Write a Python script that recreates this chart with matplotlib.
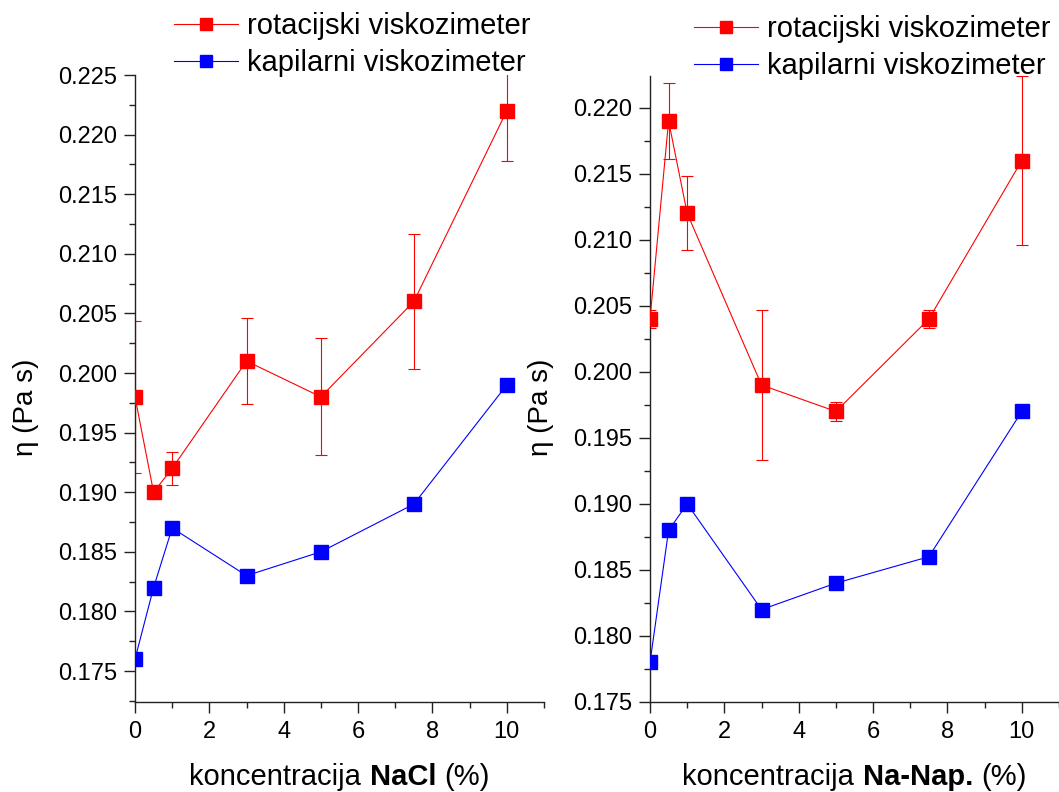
import matplotlib
matplotlib.use("Agg")
import matplotlib.pyplot as plt
from matplotlib.ticker import MultipleLocator, FormatStrFormatter
from matplotlib.offsetbox import TextArea, HPacker, AnchoredOffsetbox

plt.rcParams['font.family'] = ['Liberation Sans', 'DejaVu Sans']

# concentration (%)
conc = [0, 0.5, 1, 3, 5, 7.5, 10]

# NaCl series, viscosity in Pa s
nacl_rot = [0.198, 0.190, 0.192, 0.201, 0.198, 0.206, 0.222]
nacl_rot_err = [0.0064, 0.0, 0.0014, 0.0036, 0.0049, 0.0057, 0.0042]
nacl_kap = [0.176, 0.182, 0.187, 0.183, 0.185, 0.189, 0.199]

# Na-Nap. series
nanap_rot = [0.204, 0.219, 0.212, 0.199, 0.197, 0.204, 0.216]
nanap_rot_err = [0.0007, 0.0029, 0.0028, 0.0057, 0.0007, 0.0007, 0.0064]
nanap_kap = [0.178, 0.188, 0.190, 0.182, 0.184, 0.186, 0.197]

labels = ['rotacijski viskozimeter', 'kapilarni viskozimeter']
W, H = 1059, 792

fig = plt.figure(figsize=(W / 100, H / 100), dpi=100)
ax1 = fig.add_axes([135 / W, 1 - 702 / H, 409 / W, 627 / H])
ax2 = fig.add_axes([650 / W, 1 - 702 / H, 409 / W, 626 / H])


def draw_panel(ax, rot, rot_err, kap, ylim, salt, leg_xy):
    ax.errorbar(conc, rot, yerr=rot_err, fmt='none', ecolor='red',
                elinewidth=0.8, capsize=4.5, capthick=0.8, zorder=2)
    ax.plot(conc, rot, '-s', color='red', ms=9.5, lw=0.8, zorder=3,
            label=labels[0])
    ax.plot(conc, kap, '-s', color='blue', ms=9.5, lw=0.8, zorder=3,
            label=labels[1])

    ax.set_xlim(0, 11)
    ax.set_ylim(*ylim)
    ax.xaxis.set_major_locator(MultipleLocator(2))
    ax.xaxis.set_minor_locator(MultipleLocator(1))
    ax.yaxis.set_major_locator(MultipleLocator(0.005))
    ax.yaxis.set_minor_locator(MultipleLocator(0.0025))
    ax.yaxis.set_major_formatter(FormatStrFormatter('%.3f'))

    for side in ['top', 'right']:
        ax.spines[side].set_visible(False)
    for side in ['left', 'bottom']:
        ax.spines[side].set_color('#222222')
        ax.spines[side].set_linewidth(1)
    ax.tick_params(which='major', direction='out', length=8, width=1,
                   colors='#222222', labelcolor='black', labelsize=17)
    ax.tick_params(which='minor', direction='out', length=4, width=1,
                   colors='#222222')
    ax.tick_params(axis='x', which='major', pad=6)
    ax.tick_params(axis='y', which='major', pad=5)

    ax.set_ylabel(r'η (Pa s)', fontsize=20)
    ax.yaxis.set_label_coords(-0.235, 0.47)

    # x label with the salt name in bold
    parts = [TextArea('koncentracija', textprops=dict(fontsize=21)),
             TextArea(salt, textprops=dict(fontsize=21, fontweight='bold')),
             TextArea('(%)', textprops=dict(fontsize=21))]
    box = HPacker(children=parts, align='baseline', pad=0, sep=6)
    anchored = AnchoredOffsetbox(loc='upper center', child=box, pad=0,
                                 borderpad=0, frameon=False,
                                 bbox_to_anchor=(0.5, -0.098),
                                 bbox_transform=ax.transAxes)
    ax.add_artist(anchored)

    ax.legend(loc='upper left', bbox_to_anchor=leg_xy,
              bbox_transform=fig.transFigure, frameon=False, fontsize=21,
              handlelength=2.2, handletextpad=0.3, labelspacing=0.32,
              borderpad=0, borderaxespad=0, markerscale=0.85)


draw_panel(ax1, nacl_rot, nacl_rot_err, nacl_kap, (0.1724, 0.225), 'NaCl',
           (174 / W, 1 - 12 / H))
draw_panel(ax2, nanap_rot, nanap_rot_err, nanap_kap, (0.175, 0.2224),
           'Na-Nap.', (694 / W, 1 - 15 / H))

fig.savefig('out.png', dpi=100)
